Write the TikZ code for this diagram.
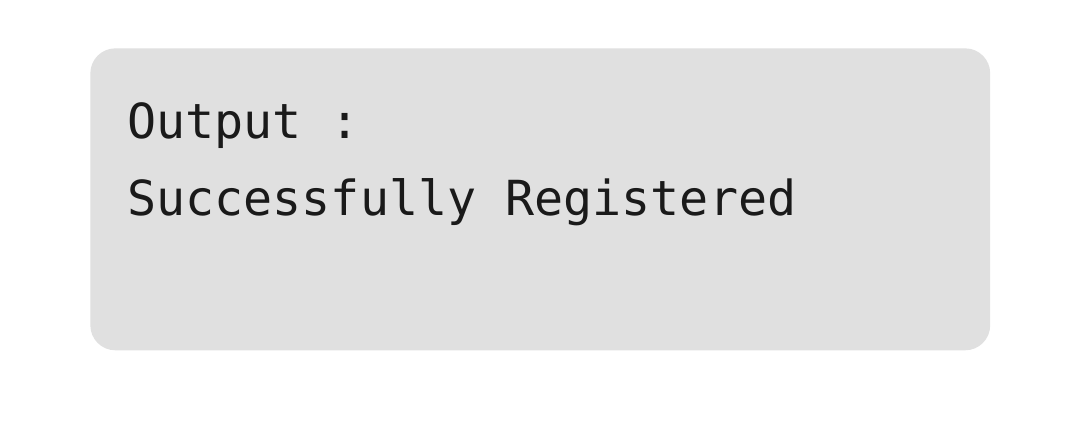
\documentclass[tikz,border=0pt]{standalone}
\usepackage{fontspec}
\setmonofont{DejaVu Sans Mono}
\definecolor{panelgray}{HTML}{E0E0E0}
\definecolor{textdark}{HTML}{1A1A1A}
\tikzset{
	outtext/.style={anchor=base west,inner sep=0pt,text=textdark,font=\ttfamily\fontsize{27.5}{32}\selectfont}
}
\begin{document}
\begin{tikzpicture}[x=0.02cm,y=-0.02cm]
	
	\useasboundingbox[fill=white](0,0) rectangle (1076,428);
	
	\node[fill=panelgray,rounded corners=0.5cm,minimum width=18cm,minimum height=6.04cm,inner sep=0pt,anchor=north west](panel) at (90,48) {};
	
	\node[outtext](title) at (127,139) {Output :};
	\node[outtext](msg) at (127,216) {Successfully Registered};
	
\end{tikzpicture}
\end{document}
